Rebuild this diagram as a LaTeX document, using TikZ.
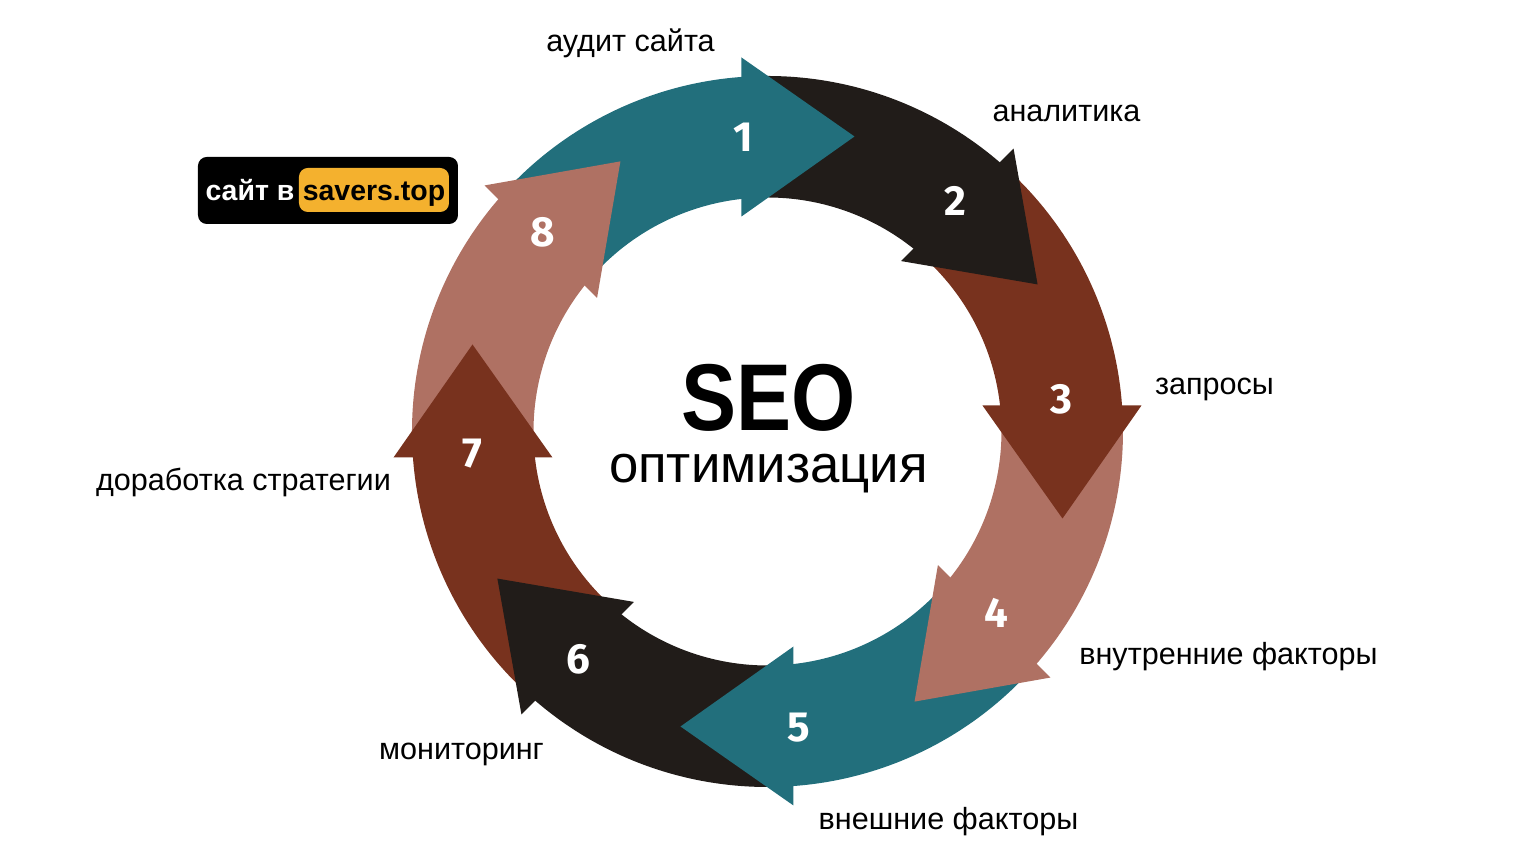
\documentclass[tikz,border=0pt]{standalone}
\usepackage{fontspec}
\setmainfont{Liberation Sans}
\newfontfamily\numfont{Fira Sans}
\newfontfamily\seofont[FakeStretch=0.87]{Liberation Sans}
\usepackage{xcolor}
\definecolor{segteal}{HTML}{226F7C}
\definecolor{segblack}{HTML}{211C19}
\definecolor{segbrown}{HTML}{78321E}
\definecolor{segrose}{HTML}{AF7163}
\definecolor{badgeyellow}{HTML}{F4B12E}
\usepackage{tikz}
\tikzset{
  steplabel/.style={font=\fontsize{17.4}{21}\selectfont, text=black},
  stepnum/.style={font=\fontsize{24}{28}\selectfont\numfont\bfseries, text=white},
  badgetext/.style={font=\fontsize{16.2}{19}\selectfont\bfseries, anchor=base},
}

\begin{document}
\begin{tikzpicture}[x=0.02cm,y=0.02cm]
  \useasboundingbox (-767.5,-432.5) rectangle (768.5,431.5);
  % ring bands first, arrow heads on top
  \foreach \i/\col in {0/segteal,1/segblack,2/segbrown,3/segrose,4/segteal,5/segblack,6/segbrown,7/segrose}
    \fill[\col, rotate=-45*\i] (136:355.5) arc[start angle=136, end angle=93, radius=355.5]
      -- (93:234) arc[start angle=93, end angle=136, radius=234] -- cycle;
  \foreach \i/\col in {0/segteal,1/segblack,2/segbrown,3/segrose,4/segteal,5/segblack,6/segbrown,7/segrose}
    \fill[\col, rotate=-45*\i] (-26,374) -- (87,295) -- (-26,215) -- cycle;

  \node[stepnum] (num1) at (-24.5,294) {1};
  \node[stepnum] (num2) at (188,231) {2};
  \node[stepnum] (num3) at (294,32) {3};
  \node[stepnum] (num4) at (228.5,-181) {4};
  \node[stepnum] (num5) at (31.5,-296) {5};
  \node[stepnum] (num6) at (-189,-228) {6};
  \node[stepnum] (num7) at (-295,-22) {7};
  \node[stepnum] (num8) at (-225,199) {8};

  \node[steplabel] (audit) at (-137,388) {аудит сайта};
  \node[steplabel] (analytics) at (299,318) {аналитика};
  \node[steplabel] (queries) at (447,42) {запросы};
  \node[steplabel] (inner) at (461,-225) {внутренние факторы};
  \node[steplabel] (outer) at (181,-390) {внешние факторы};
  \node[steplabel] (monitor) at (-306,-323) {мониторинг};
  \node[steplabel] (strategy) at (-524,-51) {доработка стратегии};

  \node[font=\fontsize{54}{60}\selectfont\seofont\bfseries] (seo) at (1,34) {SEO};
  \node[font=\fontsize{30}{36}\selectfont] (optim) at (1,-42) {оптимизация};

  % badge
  \fill[black, rounded corners=5pt] (-569.5,274.5) rectangle (-309.5,207.5);
  \fill[badgeyellow, rounded corners=5pt] (-468.5,263.5) rectangle (-318.5,219.5);
  \node[badgetext, text=white] (badgeleft) at (-517.5,231) {сайт в};
  \node[badgetext, text=black] (badgeright) at (-393.5,231) {savers.top};
\end{tikzpicture}
\end{document}
